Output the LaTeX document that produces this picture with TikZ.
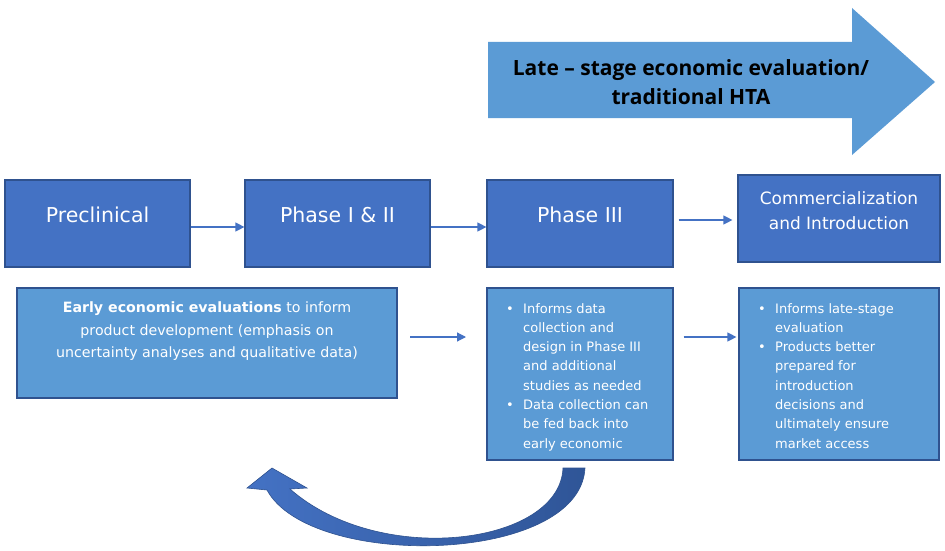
\documentclass[tikz,border=0pt]{standalone}
\usepackage{fontspec}
\setmainfont{DejaVu Sans}
\newfontfamily\osans[Ligatures=TeX]{Open Sans}
\usetikzlibrary{arrows.meta}
\definecolor{dblue}{HTML}{4472C4}
\definecolor{lblue}{HTML}{5B9BD5}
\definecolor{edgeblue}{HTML}{2F528F}
\definecolor{navy}{HTML}{2F5597}
\begin{document}
\begin{tikzpicture}[x=1pt,y=-1pt,
  phase/.style={draw=edgeblue, line width=1.2pt, fill=dblue, minimum width=185pt, minimum height=87pt, inner sep=0pt},
  info/.style={draw=edgeblue, line width=1.2pt, fill=lblue, inner sep=0pt},
  lab/.style={text=white, inner sep=0pt, font=\fontsize{20.5}{24}\selectfont},
  conn/.style={draw=dblue, line width=1.2pt, -{Triangle[length=9pt,width=9pt]}},
  txt/.style={text=white, font=\fontsize{13}{19.3}\selectfont, align=left, inner sep=0pt}]
\useasboundingbox (0,0) rectangle (945,551);
\fill[white] (0,0) rectangle (945,551);
% big arrow
\fill[lblue] (488,42) -- (852,42) -- (852,8) -- (935,82) -- (852,155) -- (852,118) -- (488,118) -- cycle;
\node[inner sep=0pt, align=center, font=\osans\bfseries\fontsize{21}{29}\selectfont] (late) at (691,82) {Late – stage economic evaluation/\\traditional HTA};
% top row
\node[phase, minimum width=185pt] (pre) at (97.5,223.5) {};
\node[phase, minimum width=185pt] (p12) at (337.5,223.5) {};
\node[phase, minimum width=186pt] (p3) at (580,223.5) {};
\node[phase, minimum width=202pt] (com) at (839,218.5) {};
\node[lab] (preT) at (97.5,215) {Preclinical};
\node[lab] (p12T) at (337.5,215) {Phase I \& II};
\node[lab] (p3T) at (580,215) {Phase III};
\node[lab, align=center, font=\fontsize{17}{25}\selectfont] (comT) at (839,211) {Commercialization\\and Introduction};
\draw[conn] (pre.east |- 0,227) -- (p12.west |- 0,227);
\draw[conn] (p12.east |- 0,227) -- (p3.west |- 0,227);
\draw[conn] ([xshift=5pt]p3.east |- 0,220) -- ([xshift=-5pt]com.west |- 0,220);
% bottom row
\node[info, minimum width=380pt, minimum height=110pt] (early) at (207,343) {};
\node[info, minimum width=186pt, minimum height=172pt] (p3b) at (580,374) {};
\node[info, minimum width=200pt, minimum height=172pt] (comb) at (839,374) {};
\node[txt, align=center, font=\fontsize{14.2}{22.5}\selectfont] (earlyT) at (207,331.5) {\textbf{Early economic evaluations} to inform\\product development (emphasis on\\uncertainty analyses and qualitative data)};
\node[txt, anchor=north west] (p3bT) at (506,303) {\makebox[17pt][l]{\textbullet}Informs data\\\hspace*{17pt}collection and\\\hspace*{17pt}design in Phase III\\\hspace*{17pt}and additional\\\hspace*{17pt}studies as needed\\\makebox[17pt][l]{\textbullet}Data collection can\\\hspace*{17pt}be fed back into\\\hspace*{17pt}early economic};
\node[txt, anchor=north west] (combT) at (758,303) {\makebox[17pt][l]{\textbullet}Informs late-stage\\\hspace*{17pt}evaluation\\\makebox[17pt][l]{\textbullet}Products better\\\hspace*{17pt}prepared for\\\hspace*{17pt}introduction\\\hspace*{17pt}decisions and\\\hspace*{17pt}ultimately ensure\\\hspace*{17pt}market access};
\coordinate (ea) at (410,337);
\coordinate (eb) at (466,337);
\draw[conn] (ea) -- (eb);
\draw[conn] (p3b.east |- 0,337) ++(10,0) coordinate (pa) -- ([xshift=-2pt]comb.west |- 0,337);
% curved feedback arrow
\path[draw=edgeblue, line width=0.6pt, left color=dblue, right color=navy]
  (563,468) .. controls (560,545) and (380,568) .. (290,489)
  -- (307,488) -- (272,468) -- (247,488) -- (267,490)
  .. controls (310,570) and (580,565) .. (585,468) -- cycle;
\end{tikzpicture}
\end{document}
